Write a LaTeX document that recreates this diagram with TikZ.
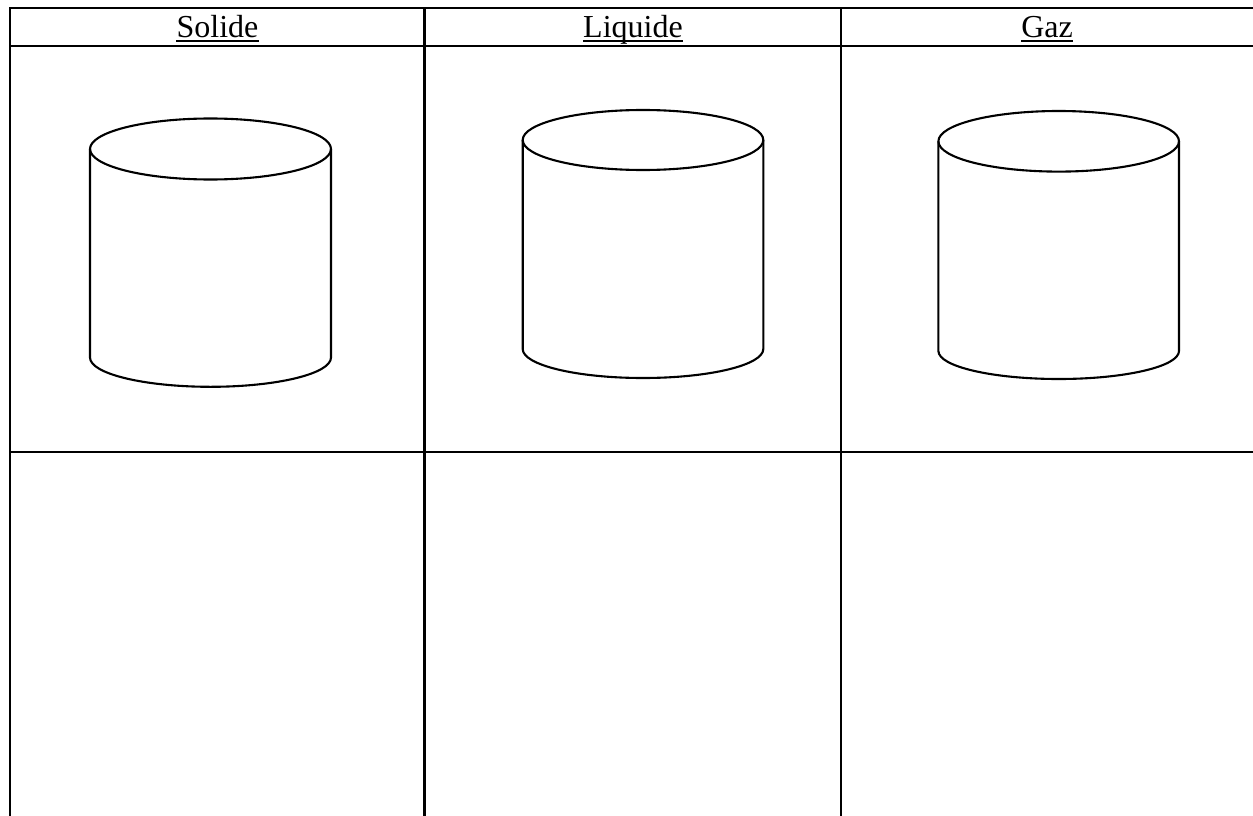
\documentclass[tikz,border=0pt]{standalone}
\usepackage{fontspec}
\setmainfont{Liberation Serif}
\usetikzlibrary{calc}
\begin{document}
\begin{tikzpicture}[x=1pt,y=-1pt,
  rule/.style={line width=2.6pt,line cap=rect},
  vessel/.style={line width=2.1pt,line join=round},
  head/.style={anchor=base,inner sep=0pt,font=\fontsize{32}{36}\selectfont},
  uline/.style={line width=1.9pt}]
\useasboundingbox (0,0) rectangle (1253,816);
\fill[white] (0,0) rectangle (1253,816);

% table frame
\draw[rule] (10,8) -- (1253,8);
\draw[rule] (10,46) -- (1253,46);
\draw[rule] (10,452) -- (1253,452);
\draw[rule] (10,8) -- (10,816);
\draw[rule] (424.5,8) -- (424.5,816);
\draw[rule] (841,8) -- (841,816);

% column headings, underlined
\node[head] (solide) at (217.5,38) {Solide};
\node[head] (liquide) at (633,38) {Liquide};
\node[head] (gaz) at (1047,38) {Gaz};
\foreach \t in {solide,liquide,gaz}
  \draw[uline] ($(\t.base west)+(0,3.3)$) -- ($(\t.base east)+(0,3.3)$);

% three empty containers
% cylinder 1
\draw[vessel] (210.5,149) ellipse [x radius=120.5,y radius=30.5];
\draw[vessel] (90,149) -- (90,357.5)
  arc[start angle=180,end angle=0,x radius=120.5,y radius=29.3] -- (331,149);
% cylinder 2
\draw[vessel] (643,140) ellipse [x radius=120.3,y radius=30];
\draw[vessel] (522.7,140) -- (522.7,349)
  arc[start angle=180,end angle=0,x radius=120.3,y radius=29] -- (763.3,140);
% cylinder 3
\draw[vessel] (1058.7,141.3) ellipse [x radius=120.3,y radius=30.3];
\draw[vessel] (938.4,141.3) -- (938.4,351)
  arc[start angle=180,end angle=0,x radius=120.3,y radius=28] -- (1179,141.3);
\end{tikzpicture}
\end{document}
